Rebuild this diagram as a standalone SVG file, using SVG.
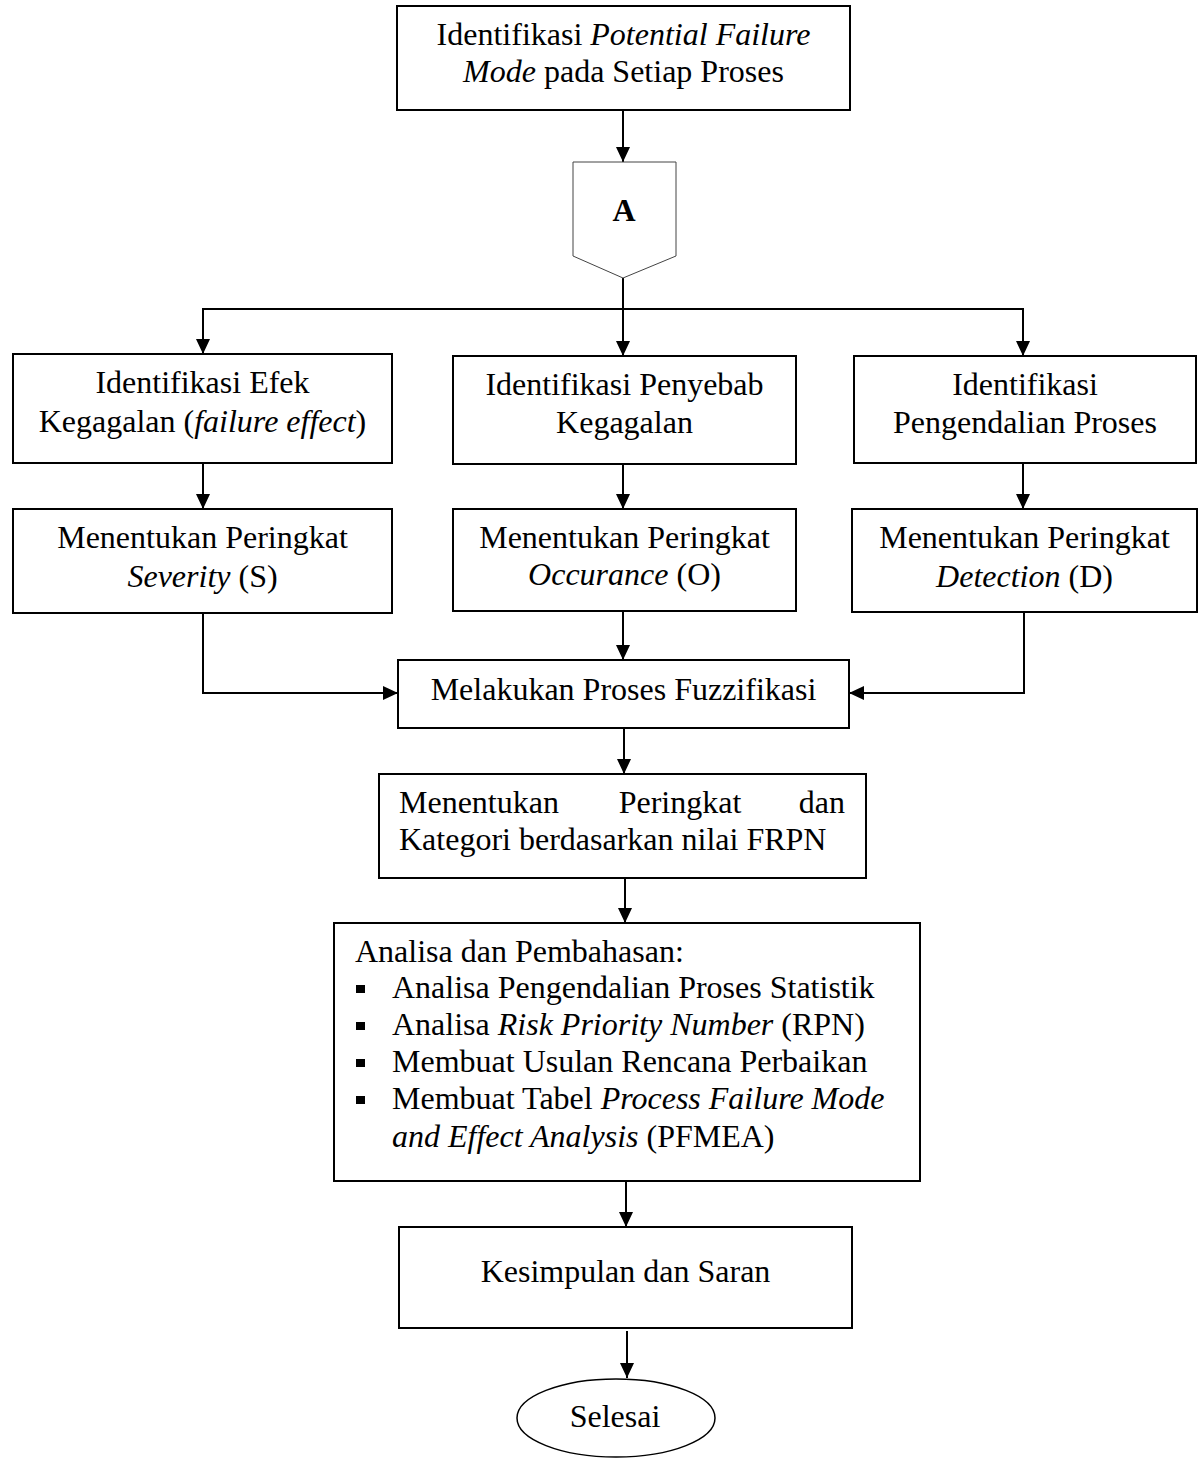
<svg xmlns="http://www.w3.org/2000/svg" width="1199" height="1458" viewBox="0 0 1199 1458">
<style>
text{font-family:"Liberation Serif","Times New Roman",serif;font-size:32px;fill:#000}
.c{text-anchor:middle}
.i{font-style:italic}
.box{fill:#fff;stroke:#000;stroke-width:2}
.con{fill:none;stroke:#000;stroke-width:2}
</style>
<defs>
<marker id="ah" markerUnits="userSpaceOnUse" markerWidth="16" markerHeight="16" refX="15" refY="7" orient="auto">
<path d="M0,0 L15,7 L0,14 z" fill="#000"/>
</marker>
</defs>
<rect width="1199" height="1458" fill="#fff"/>
<g id="connectors">
<line class="con" x1="623" y1="111" x2="623" y2="162" marker-end="url(#ah)"/>
<line class="con" x1="623" y1="278" x2="623" y2="356" marker-end="url(#ah)"/>
<polyline class="con" points="203,354 203,309 1023,309 1023,356" />
<line class="con" x1="203" y1="309" x2="203" y2="354" marker-end="url(#ah)"/>
<line class="con" x1="1023" y1="309" x2="1023" y2="356" marker-end="url(#ah)"/>
<line class="con" x1="203" y1="463" x2="203" y2="509" marker-end="url(#ah)"/>
<line class="con" x1="623" y1="464" x2="623" y2="509" marker-end="url(#ah)"/>
<line class="con" x1="1023" y1="463" x2="1023" y2="509" marker-end="url(#ah)"/>
<polyline class="con" points="203,613 203,693 398,693" marker-end="url(#ah)"/>
<polyline class="con" points="1024,612 1024,693 849,693" marker-end="url(#ah)"/>
<line class="con" x1="623" y1="611" x2="623" y2="660" marker-end="url(#ah)"/>
<line class="con" x1="624" y1="728" x2="624" y2="774" marker-end="url(#ah)"/>
<line class="con" x1="625" y1="878" x2="625" y2="923" marker-end="url(#ah)"/>
<line class="con" x1="626" y1="1181" x2="626" y2="1227" marker-end="url(#ah)"/>
<line class="con" x1="627" y1="1331" x2="627" y2="1378" marker-end="url(#ah)"/>
</g>
<g id="n1">
<rect class="box" x="397" y="6" width="453" height="104"/>
<text class="c" x="623.5" y="45">Identifikasi <tspan class="i">Potential Failure</tspan></text>
<text class="c" x="623.5" y="82"><tspan class="i">Mode</tspan> pada Setiap Proses</text>
</g>
<g id="nA">
<path d="M573,162 L676,162 L676,256 L623,278 L573,256 Z" fill="#fff" stroke="#444" stroke-width="1"/>
<text class="c" x="624" y="221" font-weight="bold">A</text>
</g>
<g id="n2">
<rect class="box" x="13" y="354" width="379" height="109"/>
<text class="c" x="202.5" y="393">Identifikasi Efek</text>
<text class="c" x="202.5" y="432">Kegagalan (<tspan class="i">failure effect</tspan>)</text>
</g>
<g id="n3">
<rect class="box" x="453" y="356" width="343" height="108"/>
<text class="c" x="624.5" y="395">Identifikasi Penyebab</text>
<text class="c" x="624.5" y="433">Kegagalan</text>
</g>
<g id="n4">
<rect class="box" x="854" y="356" width="342" height="107"/>
<text class="c" x="1025" y="395">Identifikasi</text>
<text class="c" x="1025" y="433">Pengendalian Proses</text>
</g>
<g id="n5">
<rect class="box" x="13" y="509" width="379" height="104"/>
<text class="c" x="202.5" y="548">Menentukan Peringkat</text>
<text class="c" x="202.5" y="587"><tspan class="i">Severity</tspan> (S)</text>
</g>
<g id="n6">
<rect class="box" x="453" y="509" width="343" height="102"/>
<text class="c" x="624.5" y="548">Menentukan Peringkat</text>
<text class="c" x="624.5" y="585"><tspan class="i">Occurance</tspan> (O)</text>
</g>
<g id="n7">
<rect class="box" x="852" y="509" width="345" height="103"/>
<text class="c" x="1024.5" y="548">Menentukan Peringkat</text>
<text class="c" x="1024.5" y="587"><tspan class="i">Detection</tspan> (D)</text>
</g>
<g id="n8">
<rect class="box" x="398" y="660" width="451" height="68"/>
<text class="c" x="623.5" y="700">Melakukan Proses Fuzzifikasi</text>
</g>
<g id="n9">
<rect class="box" x="379" y="774" width="487" height="104"/>
<text x="399" y="813">Menentukan</text>
<text class="c" x="680" y="813">Peringkat</text>
<text x="845" y="813" text-anchor="end">dan</text>
<text x="399" y="850">Kategori berdasarkan nilai FRPN</text>
</g>
<g id="n10">
<rect class="box" x="334" y="923" width="586" height="258"/>
<text x="355" y="962">Analisa dan Pembahasan:</text>
<rect x="356" y="985" width="9" height="8"/>
<rect x="356" y="1022" width="9" height="8"/>
<rect x="356" y="1059" width="9" height="8"/>
<rect x="356" y="1096" width="9" height="8"/>
<text x="392" y="998">Analisa Pengendalian Proses Statistik</text>
<text x="392" y="1035">Analisa <tspan class="i">Risk Priority Number</tspan> (RPN)</text>
<text x="392" y="1072">Membuat Usulan Rencana Perbaikan</text>
<text x="392" y="1109">Membuat Tabel <tspan class="i">Process Failure Mode</tspan></text>
<text x="392" y="1147"><tspan class="i">and Effect Analysis</tspan> (PFMEA)</text>
</g>
<g id="n11">
<rect class="box" x="399" y="1227" width="453" height="101"/>
<text class="c" x="625.5" y="1282">Kesimpulan dan Saran</text>
</g>
<g id="n12">
<ellipse cx="616" cy="1418" rx="99" ry="39" fill="#fff" stroke="#000" stroke-width="1.5"/>
<text class="c" x="615" y="1427">Selesai</text>
</g>
</svg>
